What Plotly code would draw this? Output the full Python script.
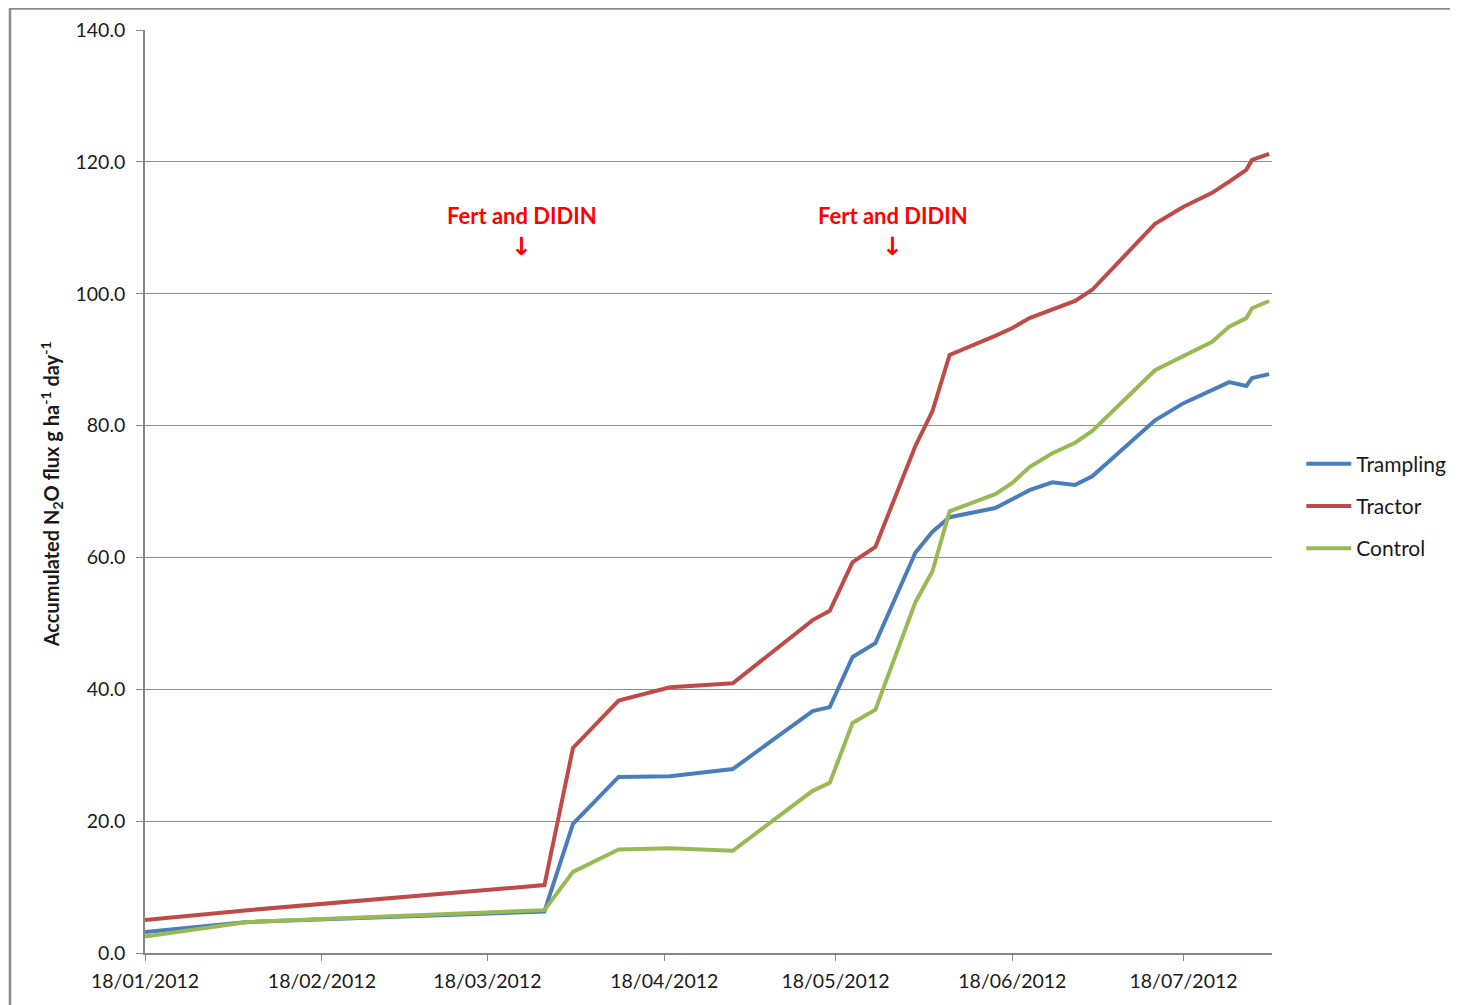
import plotly.graph_objects as go

# sampling dates and accumulated flux
dates = ["2012-01-18", "2012-02-05", "2012-03-28", "2012-04-02", "2012-04-10",
         "2012-04-19", "2012-04-30", "2012-05-14", "2012-05-17", "2012-05-21",
         "2012-05-25", "2012-06-01", "2012-06-04", "2012-06-07", "2012-06-15",
         "2012-06-18", "2012-06-21", "2012-06-25", "2012-06-29", "2012-07-02",
         "2012-07-13", "2012-07-18", "2012-07-23", "2012-07-26", "2012-07-29",
         "2012-07-30", "2012-08-02"]

trampling = [3.2, 4.7, 6.3, 19.6, 26.7, 26.8, 27.9, 36.7, 37.3, 44.9, 47.0, 60.7,
             63.9, 66.1, 67.5, 68.9, 70.2, 71.4, 71.0, 72.3, 80.8, 83.4, 85.5,
             86.6, 86.0, 87.2, 87.8]
tractor = [5.0, 6.5, 10.3, 31.1, 38.3, 40.3, 40.9, 50.5, 51.9, 59.3, 61.6, 76.9,
           82.2, 90.7, 93.6, 94.8, 96.3, 97.6, 98.9, 100.6, 110.6, 113.2, 115.3,
           117.0, 118.8, 120.3, 121.2]
control = [2.5, 4.7, 6.5, 12.3, 15.7, 15.9, 15.5, 24.6, 25.8, 34.9, 36.9, 53.2,
           57.9, 67.0, 69.6, 71.3, 73.7, 75.8, 77.4, 79.2, 88.4, 90.6, 92.7, 95.0,
           96.3, 97.8, 98.9]

tick_dates = ["2012-01-18", "2012-02-18", "2012-03-18", "2012-04-18",
              "2012-05-18", "2012-06-18", "2012-07-18"]
tick_text = ["18/01/2012", "18/02/2012", "18/03/2012", "18/04/2012",
             "18/05/2012", "18/06/2012", "18/07/2012"]

events = ["2012-03-24", "2012-05-28"]

series = [("Trampling", trampling, "#4A7EBB"),
          ("Tractor", tractor, "#BE4B48"),
          ("Control", control, "#98B954")]

font = "Lato, 'Open Sans', sans-serif"

fig = go.Figure()
for i, (name, vals, col) in enumerate(series):
    fig.add_trace(go.Scatter(x=dates, y=vals, name=name, mode="lines",
                             line=dict(color=col, width=4), legendgroup=str(i)))

for d in events:
    fig.add_annotation(x=d, y=111.9, text="<b>Fert and DIDIN</b>", showarrow=False,
                       font=dict(family=font, size=22, color="#FF0000"))
    fig.add_annotation(x=d, y=107.2, text="<b>↓</b>", showarrow=False,
                       font=dict(family="DejaVu Sans", size=25, color="#FF0000"))

# y axis title placed by hand
fig.add_annotation(xref="paper", yref="paper", x=-0.0825, y=0.497,
                   text="<b>Accumulated N<sub>2</sub>O flux g ha<sup>-1</sup> day<sup>-1</sup></b>",
                   textangle=-90, showarrow=False, xanchor="center", yanchor="middle",
                   font=dict(family=font, size=20, color="#1A1A1A"))

# slide frame around the chart
fig.add_shape(type="rect", xref="paper", yref="paper",
              x0=-0.1198, x1=1.2, y0=-0.07, y1=1.0232,
              line=dict(color="#8A8A8A", width=2.5), layer="below")

# page body adds an 8px offset, margins compensate for it
fig.update_layout(
    width=1450, height=997,
    margin=dict(l=137, r=186, t=22, b=52, autoexpand=False),
    paper_bgcolor="white", plot_bgcolor="white",
    font=dict(family=font, size=19.5, color="#1A1A1A"),
    showlegend=True,
    legend=dict(x=1.026, y=0.552, xanchor="left", yanchor="top",
                font=dict(size=21), tracegroupgap=12, itemwidth=45,
                bgcolor="rgba(0,0,0,0)"),
    xaxis=dict(type="date", range=["2012-01-18", "2012-08-02 12:00"],
               tickvals=tick_dates, ticktext=tick_text, ticklabelstandoff=4,
               showgrid=False, showline=True, linecolor="#868686", linewidth=1.5,
               ticks="outside", ticklen=6, tickcolor="#868686", zeroline=False),
    yaxis=dict(range=[0, 140], dtick=20, tickformat=".1f", ticklabelstandoff=7,
               showgrid=True, gridcolor="#8C8C8C", gridwidth=1.2,
               showline=True, linecolor="#868686", linewidth=1.5,
               ticks="outside", ticklen=7, tickcolor="#868686", zeroline=False),
)

fig.write_html("out.html")
